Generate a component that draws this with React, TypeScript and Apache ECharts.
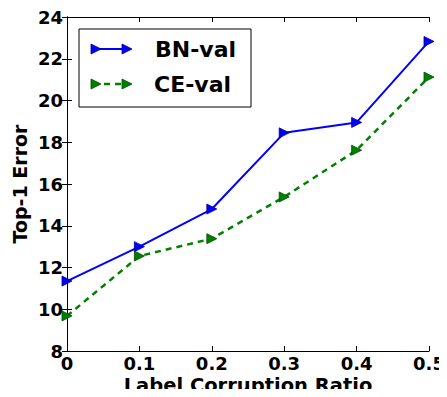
import React, { useEffect, useRef } from "react";
import * as echarts from "echarts";

const ratios = [0, 0.1, 0.2, 0.3, 0.4, 0.5];
const bnVal = [11.35, 13.0, 14.8, 18.45, 18.95, 22.83];
const ceVal = [9.68, 12.55, 13.38, 15.38, 17.62, 21.12];
const xTicks = ["0", "0.1", "0.2", "0.3", "0.4", "0.5"];
const legendNames = ["BN-val", "CE-val"];

const FONT = "DejaVu Sans";

export default function App() {
  const ref = useRef<HTMLDivElement>(null);
  useEffect(() => {
    if (!ref.current) return;
    const chart = echarts.init(ref.current, null, { renderer: "svg" });
    const tickStyle = { show: true, inside: true, length: 5, lineStyle: { color: "#000", width: 1 } };
    const bn = ratios.map((r, i) => [r, bnVal[i]]);
    const ce = ratios.map((r, i) => [r, ceVal[i]]);
    chart.setOption({
      animation: false,
      backgroundColor: "#fff",
      grid: { left: 67, right: 18, top: 17, bottom: 46, outerBoundsMode: "none", containLabel: false },
      xAxis: [
        {
          type: "value",
          min: 0,
          max: 0.5,
          interval: 0.1,
          name: "Label Corruption Ratio",
          nameLocation: "middle",
          nameGap: 27,
          nameMoveOverlap: false,
          nameTextStyle: { fontFamily: FONT, fontWeight: "bold", fontSize: 19.5, lineHeight: 15, color: "#000" },
          axisLine: { show: true, lineStyle: { color: "#000", width: 1 } },
          axisTick: tickStyle,
          splitLine: { show: false },
          axisLabel: {
            fontFamily: FONT,
            fontWeight: "bold",
            fontSize: 18,
            lineHeight: 14,
            color: "#000",
            margin: 5.5,
            formatter: (v: number) => xTicks[Math.round(v * 10)] ?? "",
          },
        },
        {
          type: "value",
          position: "top",
          min: 0,
          max: 0.5,
          interval: 0.1,
          axisLine: { show: true, lineStyle: { color: "#000", width: 1 } },
          axisTick: tickStyle,
          axisLabel: { show: false },
          splitLine: { show: false },
        },
      ],
      yAxis: [
        {
          type: "value",
          min: 8,
          max: 24,
          interval: 2,
          name: "Top-1 Error",
          nameLocation: "middle",
          nameGap: 38,
          nameMoveOverlap: false,
          nameTextStyle: { fontFamily: FONT, fontWeight: "bold", fontSize: 19, color: "#000" },
          axisLine: { show: true, lineStyle: { color: "#000", width: 1 } },
          axisTick: tickStyle,
          splitLine: { show: false },
          axisLabel: { fontFamily: FONT, fontWeight: "bold", fontSize: 18, color: "#000", margin: 4 },
        },
        {
          type: "value",
          position: "right",
          min: 8,
          max: 24,
          interval: 2,
          axisLine: { show: true, lineStyle: { color: "#000", width: 1 } },
          axisTick: tickStyle,
          axisLabel: { show: false },
          splitLine: { show: false },
        },
      ],
      series: [
        {
          name: legendNames[0],
          type: "line",
          data: bn,
          symbol: "triangle",
          symbolSize: 10,
          symbolRotate: -90,
          lineStyle: { color: "#0000ff", width: 2 },
          itemStyle: { color: "#0000ff", borderColor: "#00008b", borderWidth: 0.8 },
          clip: false,
        },
        {
          name: legendNames[1],
          type: "line",
          data: ce,
          symbol: "triangle",
          symbolSize: 10,
          symbolRotate: -90,
          lineStyle: { color: "#008000", width: 2.5, type: [6, 5] },
          itemStyle: { color: "#008000", borderColor: "#004d00", borderWidth: 0.8 },
          clip: false,
        },
      ],
      graphic: [
        {
          type: "rect",
          shape: { x: 79, y: 29, width: 172, height: 78 },
          style: { fill: "#fff", stroke: "#000", lineWidth: 1 },
          z: 100,
        },
        {
          type: "line",
          shape: { x1: 93, y1: 49, x2: 129, y2: 49 },
          style: { stroke: "#0000ff", lineWidth: 2 },
          z: 101,
        },
        {
          type: "polygon",
          shape: { points: [[91, 44], [101, 49], [91, 54]] },
          style: { fill: "#0000ff", stroke: "#00008b", lineWidth: 0.8 },
          z: 102,
        },
        {
          type: "polygon",
          shape: { points: [[122, 44], [132, 49], [122, 54]] },
          style: { fill: "#0000ff", stroke: "#00008b", lineWidth: 0.8 },
          z: 102,
        },
        {
          type: "line",
          shape: { x1: 93, y1: 84, x2: 129, y2: 84 },
          style: { stroke: "#008000", lineWidth: 2.5, lineDash: [6, 5] },
          z: 101,
        },
        {
          type: "polygon",
          shape: { points: [[91, 79], [101, 84], [91, 89]] },
          style: { fill: "#008000", stroke: "#004d00", lineWidth: 0.8 },
          z: 102,
        },
        {
          type: "polygon",
          shape: { points: [[122, 79], [132, 84], [122, 89]] },
          style: { fill: "#008000", stroke: "#004d00", lineWidth: 0.8 },
          z: 102,
        },
        {
          type: "text",
          x: 155,
          y: 49,
          style: {
            text: legendNames[0],
            font: `bold 22px "${FONT}"`,
            fill: "#000",
            verticalAlign: "middle",
          },
          z: 102,
        },
        {
          type: "text",
          x: 154,
          y: 84,
          style: {
            text: legendNames[1],
            font: `bold 22px "${FONT}"`,
            fill: "#000",
            verticalAlign: "middle",
          },
          z: 102,
        },
      ],
    });
    return () => chart.dispose();
  }, []);
  return <div ref={ref} style={{ width: 447, height: 397, margin: -8 }} />;
}
